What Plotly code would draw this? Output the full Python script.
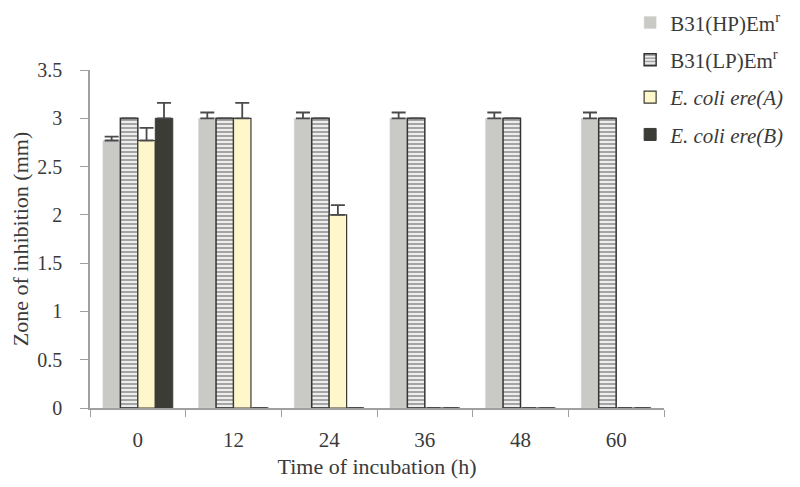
import plotly.graph_objects as go

categories = ["0", "12", "24", "36", "48", "60"]
hp_vals = [2.77, 3.0, 3.0, 3.0, 3.0, 3.0]
hp_err = [0.04, 0.06, 0.06, 0.06, 0.06, 0.06]
lp_vals = [3.0, 3.0, 3.0, 3.0, 3.0, 3.0]
lp_err = [0, 0, 0, 0, 0, 0]
ea_vals = [2.77, 3.0, 2.0, 0, 0, 0]
ea_err = [0.13, 0.16, 0.1, 0, 0, 0]
eb_vals = [3.0, 0, 0, 0, 0, 0]
eb_err = [0.16, 0, 0, 0, 0, 0]
y_ticks = [0, 0.5, 1, 1.5, 2, 2.5, 3, 3.5]
y_ticktext = ["0", "0.5", "1", "1.5", "2", "2.5", "3", "3.5"]

FONT = "Liberation Serif"
TXT = "#3a3a3a"
AX = "#a0a0a0"

def err(arr):
    return dict(type="data", symmetric=False, array=arr, arrayminus=[0] * len(arr),
                color="#4a4a4a", thickness=1.8, width=7)

fig = go.Figure()
fig.add_trace(go.Bar(name="B31(HP)Em<sup>r</sup>", x=categories, y=hp_vals, error_y=err(hp_err),
                     marker=dict(color="#c9c9c5", line=dict(color="#d4d4d0", width=0.5)),
                     legendgroup="a"))
fig.add_trace(go.Bar(name="B31(LP)Em<sup>r</sup>", x=categories, y=lp_vals, error_y=err(lp_err),
                     marker=dict(color="#ffffff", line=dict(color="#333333", width=1.5),
                                 pattern=dict(shape="-", fgcolor="#4a4a4a", bgcolor="#ffffff",
                                              size=4, solidity=0.6)),
                     legendgroup="b"))
fig.add_trace(go.Bar(name="<i>E. coli ere(A)</i>", x=categories, y=ea_vals, error_y=err(ea_err),
                     marker=dict(color="#fff7cc", line=dict(color="#3a3a30", width=1.2)),
                     legendgroup="c"))
fig.add_trace(go.Bar(name="<i>E. coli ere(B)</i>", x=categories, y=eb_vals, error_y=err(eb_err),
                     marker=dict(color="#3b3c36", line=dict(color="#3b3c36", width=1)),
                     legendgroup="d"))

fig.update_layout(
    width=800, height=487,
    margin=dict(l=82, r=144, t=62, b=87, autoexpand=False),
    paper_bgcolor="white", plot_bgcolor="white",
    barmode="group", bargap=0.27, bargroupgap=0,
    font=dict(family=FONT, color=TXT, size=19),
    showlegend=True,
    legend=dict(x=0.941, y=1.20, xanchor="left", yanchor="top",
                font=dict(family=FONT, size=21, color=TXT),
                bgcolor="rgba(0,0,0,0)", tracegroupgap=7,
                traceorder="grouped", itemwidth=30),
    xaxis=dict(type="category", tickson="boundaries", ticks="outside", ticklen=7,
               tickcolor=AX, showline=True, linecolor=AX, linewidth=1.5,
               showgrid=False, tickfont=dict(size=21), automargin=False,
               ticklabelstandoff=12,
               title=dict(text="Time of incubation (h)", font=dict(size=22), standoff=8)),
    yaxis=dict(range=[0, 3.5], tickvals=y_ticks, ticktext=y_ticktext, ticks="outside",
               ticklen=8, tickcolor=AX, showline=True, linecolor=AX, linewidth=1.5,
               showgrid=False, zeroline=False, ticklabelstandoff=14, automargin=False,
               tickfont=dict(size=20),
               title=dict(text="Zone of inhibition (mm)", font=dict(size=22), standoff=14)),
)

fig.write_html("out.html")
